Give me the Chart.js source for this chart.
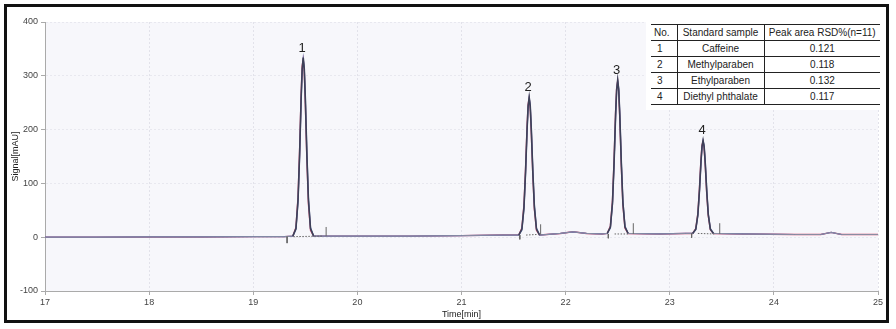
<!DOCTYPE html>
<html>
<head>
<meta charset="utf-8">
<script src="https://cdn.jsdelivr.net/npm/chart.js@4.4.1/dist/chart.umd.min.js"></script>
<style>
  html, body { margin: 0; padding: 0; background: #fff; }
  #wrap { position: relative; width: 896px; height: 329px; overflow: hidden; }
  #frame { position: absolute; left: 4px; top: 4px; width: 879px; height: 313px; border: 3px solid #111; pointer-events: none; }
  canvas { position: absolute; left: 0; top: 0; }
  #tbl { position: absolute; left: 651px; top: 24px; border-collapse: collapse; table-layout: fixed; width: 229px; background: #fff;
         font-family: "Liberation Sans", Arial, sans-serif; font-size: 10px; color: #222; }
  #tbl td { height: 15px; padding: 0; border-top: 1px solid #222; border-bottom: 1px solid #222; line-height: 15px; white-space: nowrap; overflow: hidden; }
  #tbl td + td { border-left: 1px solid #222; }
  #tbl td.c0 { text-align: left; padding-left: 3px; }
  #tbl td.c1 { text-align: center; }
  #tbl td.c2 { text-align: center; }
  #tbl tr.body td.c0 { padding-left: 6px; }
  #tblbg { position: absolute; left: 646px; top: 19px; width: 236px; height: 91px; background: #fff; }
</style>
</head>
<body>
<div id="wrap">
  <canvas id="c" width="896" height="329"></canvas>
  <div id="tblbg"></div>
  <table id="tbl"><colgroup><col style="width:26px"><col style="width:87px"><col style="width:116px"></colgroup><tbody id="tbody"></tbody></table>
  <div id="frame"></div>
</div>
<script>
// ---------------- data ----------------
const times = [17.0, 17.5, 18.0, 18.5, 19.0, 19.3,
  19.38, 19.41, 19.43, 19.445, 19.46, 19.47, 19.48, 19.49, 19.50, 19.515, 19.53, 19.55, 19.58,
  19.8, 20.5, 21.0, 21.4,
  21.55, 21.58, 21.60, 21.615, 21.63, 21.64, 21.65, 21.66, 21.67, 21.685, 21.70, 21.72, 21.75,
  21.95, 22.07, 22.2, 22.35,
  22.40, 22.43, 22.45, 22.465, 22.48, 22.49, 22.50, 22.51, 22.52, 22.535, 22.55, 22.57, 22.60,
  22.9, 23.15,
  23.22, 23.25, 23.27, 23.285, 23.30, 23.31, 23.32, 23.33, 23.34, 23.355, 23.37, 23.39, 23.42,
  23.7, 24.2, 24.45, 24.55, 24.65, 25.0];

const signalRun1 = [0, 0, 0.5, 0.5, 1, 1,
  2, 16, 69, 153, 259, 313, 334, 313, 259, 153, 69, 16, 2,
  2, 2, 3, 4,
  4, 15, 56, 121, 202, 244, 260, 244, 202, 121, 56, 15, 4,
  7, 10, 7, 6,
  7, 19, 64, 137, 228, 274, 292, 274, 228, 137, 64, 19, 7,
  6, 7,
  7, 15, 42, 86, 141, 169, 180, 169, 141, 86, 42, 15, 7,
  6, 5, 5, 9, 5, 5];

const signalRun2 = [0, 0, 0.5, 0.5, 1, 1,
  2, 18, 74, 160, 266, 318, 330, 308, 250, 144, 62, 13, 2,
  2, 2, 3, 4,
  4, 17, 60, 126, 207, 247, 258, 240, 196, 115, 52, 13, 4,
  7, 10, 7, 6,
  7, 21, 68, 142, 233, 277, 290, 270, 222, 131, 60, 17, 7,
  6, 7,
  7, 16, 44, 89, 145, 171, 178, 166, 137, 82, 40, 14, 7,
  6, 5, 5, 9, 5, 5];

const signalRun3 = [0, 0, 0.5, 0.5, 1, 1,
  2, 14, 64, 146, 252, 308, 332, 316, 264, 160, 74, 18, 2,
  2, 2, 3, 4,
  4, 13, 52, 116, 197, 241, 259, 247, 207, 127, 60, 17, 4,
  7, 10, 7, 6,
  7, 17, 60, 132, 223, 271, 291, 277, 233, 142, 68, 21, 7,
  6, 7,
  7, 14, 40, 83, 137, 166, 179, 171, 145, 90, 44, 16, 7,
  6, 5, 5, 9, 5, 5];

// integration markers (start below baseline, end above baseline)
const markerTimes = [19.325, 19.70, 21.56, 21.76, 22.41, 22.65, 23.21, 23.48];
const markerBase  = [1, 2, 4, 5, 6, 6, 7, 6];
const markerTip   = [-12, 17, -8, 19, -8, 20, -8, 20];

const peakLabels = ['1', '2', '3', '4'];
const peakTimes  = [19.48, 21.65, 22.50, 23.32];
const peakTops   = [334, 260, 292, 180];

const xTicks = [17, 18, 19, 20, 21, 22, 23, 24, 25];
const yTicks = [-100, 0, 100, 200, 300, 400];

const tableHeader = ['No.', 'Standard sample', 'Peak area RSD%(n=11)'];
const tableNo     = ['1', '2', '3', '4'];
const tableSample = ['Caffeine', 'Methylparaben', 'Ethylparaben', 'Diethyl phthalate'];
const tableRSD    = ['0.121', '0.118', '0.132', '0.117'];

// ---------------- table ----------------
(function buildTable() {
  const t = document.getElementById('tbody');
  let h = '<tr><td class="c0">' + tableHeader[0] + '</td><td class="c1">' + tableHeader[1] +
          '</td><td class="c2">' + tableHeader[2] + '</td></tr>';
  for (let i = 0; i < tableNo.length; i++) {
    h += '<tr class="body"><td class="c0">' + tableNo[i] + '</td><td class="c1">' + tableSample[i] +
         '</td><td class="c2">' + tableRSD[i] + '</td></tr>';
  }
  t.innerHTML = h;
})();

// ---------------- chart ----------------
const toXY = (ys) => times.map((t, i) => ({ x: t, y: ys[i] }));
const markerData = [];
markerTimes.forEach((t, i) => {
  markerData.push({ x: t, y: markerBase[i] });
  markerData.push({ x: t, y: markerBase[i] + markerTip[i] });
  markerData.push({ x: t, y: null });
});
const integData = [];
for (let i = 0; i < markerTimes.length; i += 2) {
  integData.push({ x: markerTimes[i] + 0.06, y: markerBase[i] });
  integData.push({ x: markerTimes[i + 1] - 0.04, y: markerBase[i + 1] });
  integData.push({ x: markerTimes[i + 1], y: null });
}

const FONT = '"Liberation Sans", Arial, sans-serif';
const baseSeg = (c) => (c.p0.parsed.y < 12 && c.p1.parsed.y < 12) ? '#8a8ca2' : undefined;
const bgPlugin = {
  id: 'bg',
  beforeDraw(chart) {
    const { ctx, chartArea: a } = chart;
    ctx.save();
    ctx.fillStyle = '#f7f7fb';
    ctx.fillRect(a.left, a.top, a.right - a.left, a.bottom - a.top);
    ctx.restore();
  }
};
const labelPlugin = {
  id: 'peakLabels',
  afterDatasetsDraw(chart) {
    const { ctx, scales } = chart;
    ctx.save();
    ctx.font = '13px ' + FONT;
    ctx.fillStyle = '#222';
    ctx.textAlign = 'center';
    ctx.textBaseline = 'bottom';
    peakLabels.forEach((lab, i) => {
      const px = scales.x.getPixelForValue(peakTimes[i]);
      const py = scales.y.getPixelForValue(peakTops[i]);
      ctx.fillText(lab, px - 1, py - 3);
    });
    ctx.restore();
  }
};

new Chart(document.getElementById('c'), {
  type: 'line',
  data: {
    datasets: [
      { label: 'run2', data: toXY(signalRun2), borderColor: '#d0456a', borderWidth: 1.4, pointRadius: 0, tension: 0, order: 5 },
      { label: 'run3', data: toXY(signalRun3), borderColor: '#5a72b0', borderWidth: 1.2, pointRadius: 0, tension: 0, order: 4 },
      { label: 'run1', data: toXY(signalRun1), borderColor: '#3e4158', borderWidth: 1.6, pointRadius: 0, tension: 0, order: 3,
        segment: { borderColor: baseSeg, borderWidth: (c) => baseSeg(c) ? 1 : undefined } },
      { label: 'markers', data: markerData, borderColor: '#666', borderWidth: 1, pointRadius: 0, spanGaps: false, order: 2 },
      { label: 'integ', data: integData, borderColor: '#666', borderWidth: 1, borderDash: [1.5, 1.5], pointRadius: 0, spanGaps: false, order: 1 }
    ]
  },
  options: {
    responsive: false,
    animation: false,
    events: [],
    layout: { padding: { left: 10, right: 18, top: 22, bottom: 9 } },
    plugins: { legend: { display: false }, tooltip: { enabled: false } },
    scales: {
      x: {
        type: 'linear', min: 17, max: 25,
        afterBuildTicks: (s) => { s.ticks = xTicks.map(v => ({ value: v })); },
        afterFit: (s) => { s.height = 29; },
        ticks: { color: '#444', font: { size: 9, family: FONT }, padding: 2, maxRotation: 0 },
        grid: { color: '#e2e2ea', tickColor: '#aaa', tickLength: 4, drawOnChartArea: true },
        border: { color: '#aaa', width: 1, dash: [2, 2] },
        title: { display: true, text: 'Time[min]', color: '#222', font: { size: 9, family: FONT }, padding: { top: 0, bottom: 0 } }
      },
      y: {
        type: 'linear', min: -100, max: 400,
        afterBuildTicks: (s) => { s.ticks = yTicks.map(v => ({ value: v })); },
        afterFit: (s) => { s.width = 35; },
        ticks: { color: '#444', font: { size: 9, family: FONT }, padding: 3 },
        grid: { color: '#e8e8ef', tickColor: '#aaa', tickLength: 4, drawOnChartArea: true },
        border: { color: '#aaa', width: 1, dash: [2, 2] },
        title: { display: true, text: 'Signal[mAU]', color: '#222', font: { size: 9, family: FONT }, padding: { top: 0, bottom: 0 } }
      }
    }
  },
  plugins: [bgPlugin, labelPlugin]
});
</script>
</body>
</html>
